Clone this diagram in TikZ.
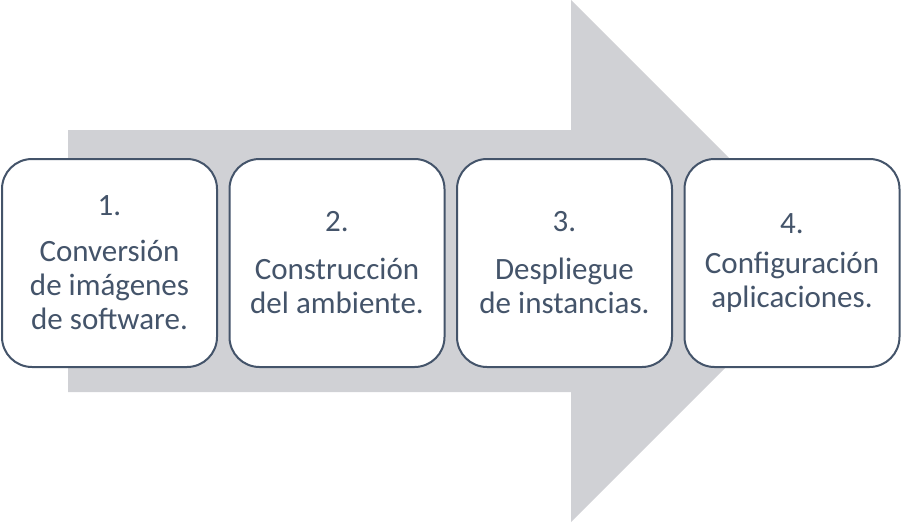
\documentclass[tikz,border=0pt]{standalone}
\usepackage{fontspec}
\setmainfont{Carlito}
\usetikzlibrary{positioning}
\definecolor{slate}{HTML}{44546A}
\definecolor{arrowgray}{HTML}{D0D1D5}

\begin{document}
\begin{tikzpicture}[
        x=1pt, y=-1pt,
        node distance=10.5pt,
        stepbox/.style={rectangle, rounded corners=30pt, draw=slate, line width=2pt, fill=white, minimum width=215pt, minimum height=208pt, inner sep=0pt, align=center, text=slate, font=\fontsize{31}{34}\selectfont}
    ]
    \useasboundingbox (0,0) rectangle (905,525);

    % background arrow
    \fill[arrowgray] (68,130) -- (571,130) -- (571,0) -- (832,261) -- (571,522) -- (571,392) -- (68,392) -- cycle;

    \node[stepbox] (convert) at (109.5,263) {1.\\[12pt]Conversión\\de imágenes\\de software.};
    \node[stepbox, right=of convert] (build) {2.\\[14pt]Construcción\\del ambiente.};
    \node[stepbox, right=of build] (deploy) {3.\\[14pt]Despliegue\\de instancias.};
    \node[stepbox, right=of deploy] (config) {4.\\[6pt]Configuración\\aplicaciones.};

\end{tikzpicture}
\end{document}
